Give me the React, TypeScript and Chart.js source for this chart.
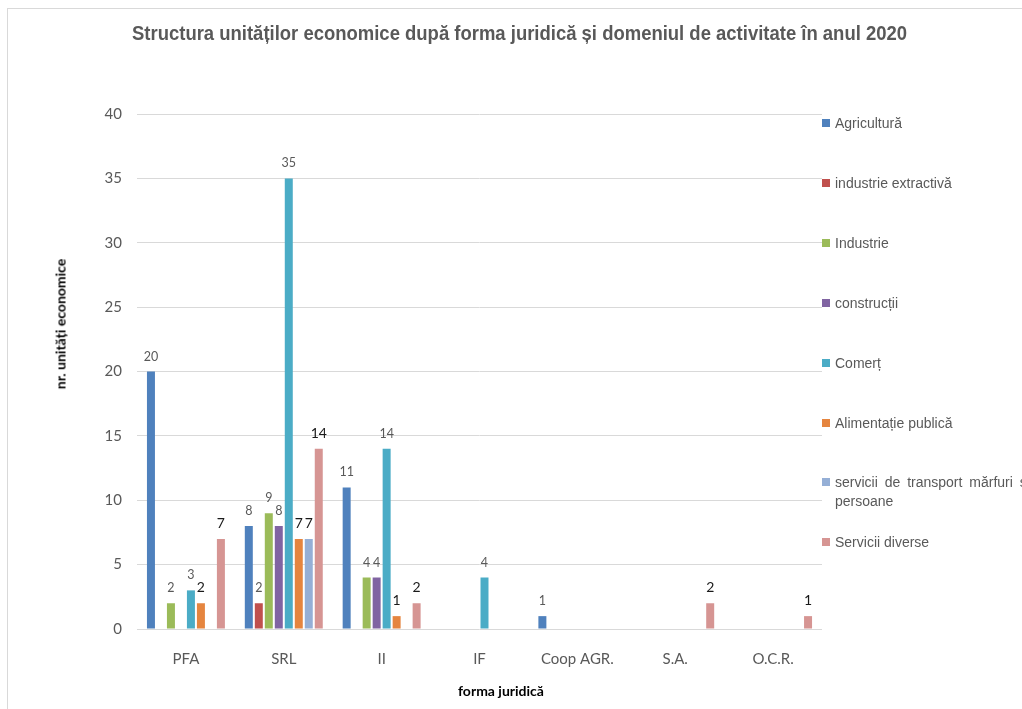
import React, { useEffect, useRef } from 'react';
import { Chart, registerables } from 'chart.js';

Chart.register(...registerables);

const categories = ['PFA', 'SRL', 'II', 'IF', 'Coop AGR.', 'S.A.', 'O.C.R.'];
const seriesNames = [
  'Agricultură',
  'industrie extractivă',
  'Industrie',
  'construcții',
  'Comerț',
  'Alimentație publică',
  'servicii de transport mărfuri și persoane',
  'Servicii diverse',
];
const agricultura = [20, 8, 11, 0, 1, 0, 0];
const industrieExtractiva = [0, 2, 0, 0, 0, 0, 0];
const industrie = [2, 9, 4, 0, 0, 0, 0];
const constructii = [0, 8, 4, 0, 0, 0, 0];
const comert = [3, 35, 14, 4, 0, 0, 0];
const alimentatie = [2, 7, 1, 0, 0, 0, 0];
const transport = [0, 7, 0, 0, 0, 0, 0];
const serviciiDiverse = [7, 14, 2, 0, 0, 2, 1];
const seriesValues = [agricultura, industrieExtractiva, industrie, constructii, comert, alimentatie, transport, serviciiDiverse];
const seriesColors = ['#4F81BD', '#C0504D', '#9BBB59', '#8064A2', '#4BACC6', '#E5853F', '#95AFD6', '#D69593'];
const darkLabel = [false, false, false, false, false, true, true, true];
const yTicks = [0, 5, 10, 15, 20, 25, 30, 35, 40];

const titleText = 'Structura unităților economice după forma juridică și domeniul de activitate în anul 2020';
const yTitle = 'nr. unități economice';
const xTitle = 'forma juridică';

const labelPlugin = {
  id: 'barValueLabels',
  afterDatasetsDraw(chart: any) {
    const ctx = chart.ctx;
    ctx.save();
    chart.data.datasets.forEach((ds: any, i: number) => {
      const meta = chart.getDatasetMeta(i);
      meta.data.forEach((bar: any, j: number) => {
        const v = ds.data[j];
        if (!v) return;
        const dark = darkLabel[i];
        ctx.font = dark ? '14px Lato' : '12.5px Lato';
        ctx.fillStyle = dark ? '#1a1a1a' : '#595959';
        ctx.textAlign = 'center';
        ctx.textBaseline = 'alphabetic';
        ctx.fillText(String(v), bar.x, bar.y - 11);
      });
    });
    ctx.restore();
  },
};

export default function App() {
  const ref = useRef<HTMLCanvasElement | null>(null);
  const titleRef = useRef<HTMLSpanElement | null>(null);
  useEffect(() => {
    const t = titleRef.current;
    if (t) {
      const w = t.offsetWidth;
      if (w > 0) t.style.transform = `scaleX(${775 / w})`;
    }
    if (!ref.current) return;
    const chart = new Chart(ref.current, {
      type: 'bar',
      data: {
        labels: categories,
        datasets: seriesNames.map((name, i) => ({
          label: name,
          data: seriesValues[i],
          backgroundColor: seriesColors[i],
          borderWidth: 0,
          categoryPercentage: 0.817,
          barPercentage: 0.8,
        })),
      },
      options: {
        animation: false,
        responsive: false,
        maintainAspectRatio: false,
        layout: { padding: { top: 114, right: 200, left: 0, bottom: 0 } },
        plugins: {
          legend: { display: false },
          title: { display: false },
          tooltip: { enabled: false },
        },
        scales: {
          x: {
            grid: { display: false },
            border: { display: false },
            ticks: { color: '#595959', font: { family: 'Lato', size: 15 }, padding: 13 },
            afterFit: (scale: any) => { scale.height = 80; },
          },
          y: {
            min: 0,
            max: 40,
            afterBuildTicks: (scale: any) => { scale.ticks = yTicks.map((v) => ({ value: v })); },
            grid: { color: '#D9D9D9', lineWidth: 1, drawTicks: false },
            border: { display: false },
            ticks: { color: '#595959', font: { family: 'Lato', size: 15 }, padding: 15 },
            afterFit: (scale: any) => { scale.width = 137; },
          },
        },
      },
      plugins: [labelPlugin],
    });
    return () => chart.destroy();
  }, []);

  return (
    <div style={{ position: 'absolute', left: 0, top: 0, width: 1022, height: 709, overflow: 'hidden', background: '#fff' }}>
      <div style={{ position: 'absolute', left: 7, top: 8, width: 1040, height: 740, border: '1px solid #D9D9D9' }} />
      <canvas ref={ref} width={1022} height={709} style={{ position: 'absolute', left: 0, top: 0, width: 1022, height: 709 }} />
      <div style={{ position: 'absolute', left: 0, width: 1040, top: 21, textAlign: 'center', whiteSpace: 'nowrap' }}>
        <span ref={titleRef} style={{ display: 'inline-block', transformOrigin: 'center', font: 'bold 21px "Liberation Sans", Arial, sans-serif', color: '#595959' }}>
          {titleText}
        </span>
      </div>
      <div style={{ position: 'absolute', left: 60, top: 324, transform: 'translate(-50%, -50%) rotate(-90deg)', font: 'bold 14px Lato', color: '#000', whiteSpace: 'nowrap' }}>
        {yTitle}
      </div>
      <div style={{ position: 'absolute', left: 501, top: 690, transform: 'translate(-50%, -50%)', font: 'bold 14px Lato', color: '#000', whiteSpace: 'nowrap' }}>
        {xTitle}
      </div>
      {seriesNames.map((name, i) => {
        const cy = 123 + i * 59.9;
        const multi = i === 6;
        return (
          <div key={name} style={{ position: 'absolute', left: 822, top: cy - 8, width: 260 }}>
            <div style={{ position: 'absolute', left: 0, top: 4, width: 8, height: 8, background: seriesColors[i] }} />
            <div style={{ position: 'absolute', left: 13, top: 0, font: '14px "Liberation Sans", Arial, sans-serif', lineHeight: '19px', marginTop: -1, color: '#595959', whiteSpace: 'nowrap', wordSpacing: multi ? 3 : 0 }}>
              {multi ? (<>{'servicii de transport mărfuri și'}<br />{'persoane'}</>) : name}
            </div>
          </div>
        );
      })}
    </div>
  );
}
